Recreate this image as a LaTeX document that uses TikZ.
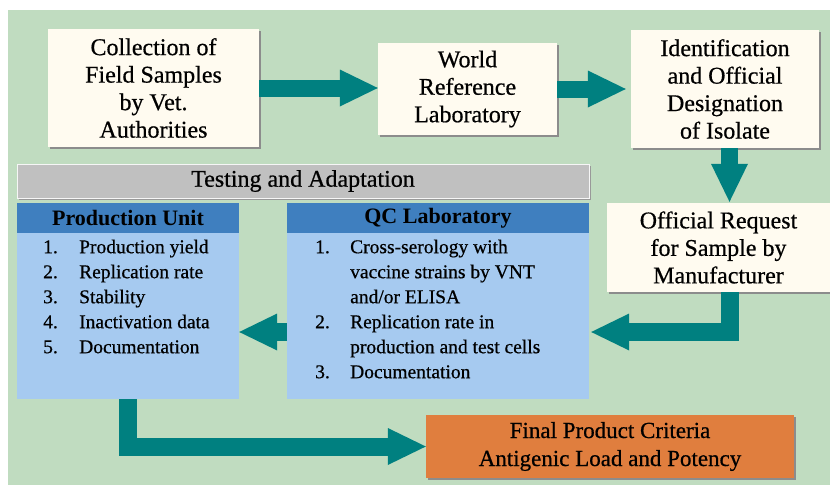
\documentclass[tikz,border=0pt]{standalone}
\usepackage{fontspec}
\setmainfont{Liberation Serif}
\newfontfamily\timesfam{Liberation Serif}[FakeBold=0.6]
\usetikzlibrary{arrows.meta,shadows,calc}
\definecolor{bggreen}{HTML}{C0DCC0}
\definecolor{creamfill}{HTML}{FFFBF0}
\definecolor{arrowteal}{HTML}{008080}
\definecolor{bargray}{HTML}{C0C0C0}
\definecolor{hdrblue}{HTML}{3F7FBF}
\definecolor{bodyblue}{HTML}{A6CAF0}
\definecolor{finalorange}{HTML}{E07E3E}
\begin{document}
\begin{tikzpicture}[x=1pt,y=-1pt,
  box/.style={fill=creamfill, inner sep=0pt, align=center,
    font=\timesfam\fontsize{24}{27.5}\selectfont,
    drop shadow={shadow xshift=2pt, shadow yshift=-2pt, fill=black!45, opacity=1}},
  graybar/.style={fill=bargray, inner sep=0pt, font=\timesfam\fontsize{24}{27.5}\selectfont,
    draw=white!85!bargray, line width=1pt,
    drop shadow={shadow xshift=1.5pt, shadow yshift=-1.5pt, fill=black!40, opacity=1}},
  hdr/.style={fill=hdrblue, inner sep=0pt, font=\bfseries\fontsize{22}{26}\selectfont},
  bodybox/.style={fill=bodyblue, inner sep=0pt},
  listtext/.style={inner sep=0pt, anchor=north west, font=\timesfam\fontsize{19.5}{25}\selectfont},
  flow/.style={draw=arrowteal, line width=#1, line join=miter,
    -{Triangle[length=38pt,width=37pt,line width=0pt]}},
  flow/.default=17pt
]
\useasboundingbox (0,0) rectangle (830,485);
\fill[white] (0,0) rectangle (830,485);
\fill[bggreen] (8,10) rectangle (830,485);

\node[box, minimum width=211pt, minimum height=118pt] (coll) at (153.5,88)
  {Collection of\\Field Samples\\by Vet.\\Authorities};
\node[box, minimum width=179pt, minimum height=92pt] (wrl) at (467.5,89)
  {World\\Reference\\Laboratory};
\node[box, minimum width=188pt, minimum height=118pt] (ident) at (725,89)
  {Identification\\and Official\\Designation\\of Isolate};
\node[box, minimum width=223pt, minimum height=89pt] (req) at (718.5,247.5)
  {Official Request\\for Sample by\\Manufacturer};

\node[graybar, minimum width=572pt, minimum height=34pt] (test) at (303,181)
  {Testing and Adaptation};

\node[bodybox, minimum width=222pt, minimum height=166pt] (prodb) at (128,316) {};
\node[hdr, minimum width=222pt, minimum height=30pt] (prodh) at (128,218) {Production Unit};
\node[bodybox, minimum width=302pt, minimum height=166pt] (qcb) at (438,316) {};
\node[hdr, minimum width=302pt, minimum height=30pt] (qch) at (438,218) {QC Laboratory};

\node[listtext] (prodl) at (43,235.5)
  {\begin{tabular}{@{}p{36pt}@{}l@{}}
   1.&Production yield\\
   2.&Replication rate\\
   3.&Stability\\
   4.&Inactivation data\\
   5.&Documentation
   \end{tabular}};
\node[listtext] (qcl) at (315,235.5)
  {\begin{tabular}{@{}p{35pt}@{}l@{}}
   1.&Cross-serology with\\
     &vaccine strains by VNT\\
     &and/or ELISA\\
   2.&Replication rate in\\
     &production and test cells\\
   3.&Documentation
   \end{tabular}};

\node[box, fill=finalorange, minimum width=368pt, minimum height=63pt,
  font=\timesfam\fontsize{23}{28}\selectfont] (final) at (610,446.5)
  {Final Product Criteria\\Antigenic Load and Potency};

\coordinate (d1) at (729.5,148);
\coordinate (e1) at (729.5,332);

\draw[flow] (coll.east) -- (coll.east -| wrl.west);
\draw[flow] (wrl.east) -- ($(ident.west)+(-5,0)$);
\draw[flow] (d1) -- ($(d1 |- req.north)+(0,-1)$);
\draw[flow=18pt] (e1 |- req.south) -- (e1) -- ($(e1 -| qcb.east)+(2,0)$);
\draw[flow=18pt] (qcb.west |- e1) -- (prodb.east |- e1);
\draw[flow=18pt] (prodb.south) |- (final.west);
\end{tikzpicture}
\end{document}
